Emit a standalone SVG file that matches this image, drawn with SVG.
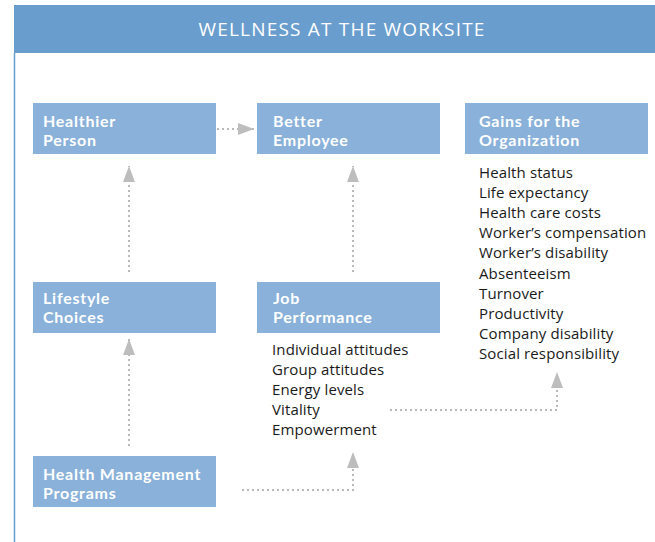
<svg xmlns="http://www.w3.org/2000/svg" width="655" height="542" viewBox="0 0 655 542">
<defs>
<style>
.box{fill:#89b1d9}
.bt{font-family:Lato,"Open Sans",sans-serif;font-weight:bold;font-size:16px;letter-spacing:0.75px;fill:#fff}
.lt{font-family:"Open Sans",Lato,sans-serif;font-size:15px;letter-spacing:0.12px;fill:#1a1a1a}
.con{fill:none;stroke:#b9b9b9;stroke-width:2;stroke-dasharray:2 3}
</style>
<marker id="ah" markerUnits="userSpaceOnUse" markerWidth="16" markerHeight="12" viewBox="0 0 16 12" refX="16" refY="6" orient="auto">
<path d="M0,0 L16,6 L0,12 Z" fill="#bdbdbd"/>
</marker>
</defs>
<rect x="0" y="0" width="655" height="542" fill="#fff"/>
<rect x="14" y="5" width="641" height="48" fill="#699dcd"/>
<line x1="14.5" y1="53" x2="14.5" y2="542" stroke="#699dcd" stroke-width="1.5"/>
<text x="342" y="36" text-anchor="middle" font-family="'Open Sans',Lato,sans-serif" font-size="19" letter-spacing="1.2" fill="#fff">WELLNESS AT THE WORKSITE</text>

<g id="connectors">
<path class="con" d="M217,129 H254" marker-end="url(#ah)"/>
<path class="con" d="M129,272 V166" marker-end="url(#ah)"/>
<path class="con" d="M353,272 V166" marker-end="url(#ah)"/>
<path class="con" d="M129,446 V339" marker-end="url(#ah)"/>
<path class="con" d="M242,490 H353 V452" marker-end="url(#ah)"/>
<path class="con" d="M390,410 H557 V372" marker-end="url(#ah)"/>
</g>

<g id="healthier-person">
<rect class="box" x="33" y="103" width="183" height="51"/>
<text class="bt"><tspan x="43" y="126.8">Healthier</tspan><tspan x="43" y="146.2">Person</tspan></text>
</g>
<g id="better-employee">
<rect class="box" x="257" y="103" width="183" height="51"/>
<text class="bt"><tspan x="273" y="126.8">Better</tspan><tspan x="273" y="146.2">Employee</tspan></text>
</g>
<g id="gains">
<rect class="box" x="465" y="103" width="183" height="51"/>
<text class="bt"><tspan x="479" y="126.8">Gains for the</tspan><tspan x="479" y="146.2">Organization</tspan></text>
<text class="lt"><tspan x="479" y="178">Health status</tspan><tspan x="479" y="198">Life expectancy</tspan><tspan x="479" y="218">Health care costs</tspan><tspan x="479" y="238">Worker’s compensation</tspan><tspan x="479" y="258">Worker’s disability</tspan><tspan x="479" y="279">Absenteeism</tspan><tspan x="479" y="299">Turnover</tspan><tspan x="479" y="319">Productivity</tspan><tspan x="479" y="339">Company disability</tspan><tspan x="479" y="359">Social responsibility</tspan></text>
</g>
<g id="lifestyle-choices">
<rect class="box" x="33" y="282" width="183" height="51"/>
<text class="bt"><tspan x="43" y="303.8">Lifestyle</tspan><tspan x="43" y="323.2">Choices</tspan></text>
</g>
<g id="job-performance">
<rect class="box" x="257" y="282" width="183" height="51"/>
<text class="bt"><tspan x="273" y="303.8">Job</tspan><tspan x="273" y="323.2">Performance</tspan></text>
<text class="lt"><tspan x="272" y="355">Individual attitudes</tspan><tspan x="272" y="375">Group attitudes</tspan><tspan x="272" y="395">Energy levels</tspan><tspan x="272" y="415">Vitality</tspan><tspan x="272" y="435">Empowerment</tspan></text>
</g>
<g id="health-management">
<rect class="box" x="33" y="456" width="183" height="51"/>
<text class="bt"><tspan x="43" y="479.8">Health Management</tspan><tspan x="43" y="499.2">Programs</tspan></text>
</g>
</svg>
